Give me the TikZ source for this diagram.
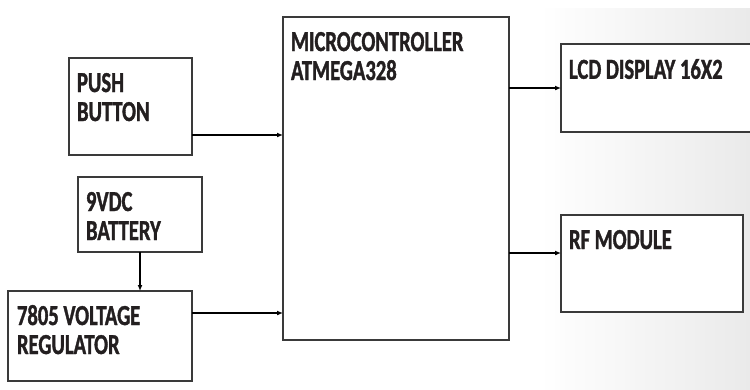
\documentclass[tikz,border=0pt]{standalone}
\usepackage{fontspec}
\setmainfont{Carlito}
\newfontfamily\blockfont[FakeStretch=0.71,FakeBold=1.2]{Carlito Bold}
\usetikzlibrary{arrows.meta}
\definecolor{edgecol}{HTML}{3A3A3A}
\definecolor{txtcol}{HTML}{231F20}
\definecolor{bgright}{HTML}{EAEAEA}
\tikzset{
  blockbox/.style={draw=edgecol, line width=1.2pt, fill=white, rectangle, anchor=north west, inner sep=0pt, outer sep=0pt},
  blocktext/.style={anchor=north west, inner sep=0pt, outer sep=0pt, align=left, text=txtcol,
    font=\blockfont\fontsize{29}{29}\selectfont},
  conn/.style={draw=black, line width=1.2pt, -{Latex[length=6pt,width=5pt]}}
}
\begin{document}
\begin{tikzpicture}[x=1pt,y=-1pt]
\useasboundingbox (0,0) rectangle (750,389);
\shade[left color=white, right color=bgright] (540,8) rectangle (750,389);
% boxes
\node[blockbox, minimum width=123pt, minimum height=97pt] (push) at (69,58) {};
\node[blockbox, minimum width=124pt, minimum height=75pt] (bat) at (78,177) {};
\node[blockbox, minimum width=184pt, minimum height=90pt] (reg) at (8,291) {};
\node[blockbox, minimum width=226pt, minimum height=323pt] (mc) at (283,17) {};
\node[blockbox, minimum width=192pt, minimum height=88pt] (lcd) at (561,44) {};
\node[blockbox, minimum width=182pt, minimum height=97pt] (rf) at (561,215) {};
% texts
\node[blocktext] (pusht) at ([shift={(8pt,-15pt)}]push.north west) {PUSH\\BUTTON};
\node[blocktext] (batt) at ([shift={(8pt,-15pt)}]bat.north west) {9VDC\\BATTERY};
\node[blocktext] (regt) at ([shift={(9pt,-14pt)}]reg.north west) {7805 VOLTAGE\\REGULATOR};
\node[blocktext] (mct) at ([shift={(8pt,-15pt)}]mc.north west) {MICROCONTROLLER\\ATMEGA328};
\node[blocktext] (lcdt) at ([shift={(8pt,-15pt)}]lcd.north west) {LCD DISPLAY 16X2};
\node[blocktext] (rft) at ([shift={(8pt,-15pt)}]rf.north west) {RF MODULE};
% connectors
\coordinate (pushout) at ([yshift=20pt]push.south east);
\coordinate (regout) at ([yshift=-22pt]reg.north east);
\coordinate (rfin) at ([yshift=-38pt]rf.north west);
\draw[conn] (pushout) -- (pushout -| mc.west);
\draw[conn] (regout) -- (regout -| mc.west);
\draw[conn] (bat.south) -- (bat.south |- reg.north);
\draw[conn] (lcd.west -| mc.east) -- (lcd.west);
\draw[conn] (rfin -| mc.east) -- (rfin);
\end{tikzpicture}
\end{document}
